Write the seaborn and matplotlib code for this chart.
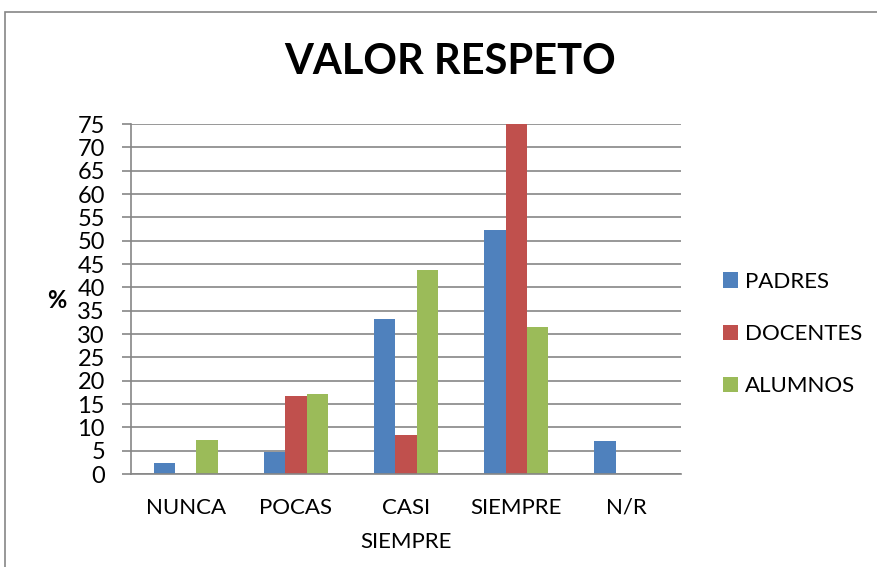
import matplotlib
matplotlib.use("Agg")
import pandas as pd
import seaborn as sns
import matplotlib.pyplot as plt
from matplotlib.patches import Rectangle

categories = ['NUNCA', 'POCAS', 'CASI\nSIEMPRE', 'SIEMPRE', 'N/R']
series = ['PADRES', 'DOCENTES', 'ALUMNOS']
padres = [2.4, 4.8, 33.3, 52.4, 7.1]
docentes = [0, 16.7, 8.3, 75.0, 0]
alumnos = [7.3, 17.1, 43.8, 31.6, 0]
colors = ['#4F81BD', '#C0504D', '#9BBB59']

df = pd.DataFrame({
    'cat': categories * 3,
    'grupo': [s for s in series for _ in categories],
    'valor': padres + docentes + alumnos,
})

sns.set_style('white')
plt.rcParams['font.family'] = ['Lato', 'DejaVu Sans']
plt.rcParams['text.color'] = 'black'

fig = plt.figure(figsize=(8.77, 5.67), dpi=100)
ax = fig.add_axes([0.149, 0.164, 0.628, 0.617])

sns.barplot(data=df, x='cat', y='valor', hue='grupo', palette=colors,
            width=0.58, saturation=1, linewidth=0, ax=ax, legend=True)

ax.set_ylim(0, 75)
ax.set_yticks(range(0, 80, 5))
ax.set_xlim(-0.5, 4.5)
ax.yaxis.grid(True, color='#868686', linewidth=1.2)
ax.set_axisbelow(True)
for s in ['top', 'right']:
    ax.spines[s].set_visible(False)
for s in ['left', 'bottom']:
    ax.spines[s].set_color('#868686')
    ax.spines[s].set_linewidth(1.2)
ax.tick_params(axis='y', length=6.5, width=1.2, color='#868686', labelsize=17,
               pad=12, left=True, labelcolor='black')
ax.tick_params(axis='x', length=0, labelsize=16, pad=17, labelcolor='black')
for t in ax.get_xticklabels():
    t.set_linespacing(1.9)
ax.set_xlabel('')
ax.set_ylabel('')
fig.text(57 / 877, 1 - 300 / 567, '%', fontsize=17, fontweight='bold',
         ha='center', va='center')

fig.text(450 / 877, 1 - 62 / 567, 'VALOR RESPETO', fontsize=30,
         fontweight='bold', ha='center', va='center')

handles, labels = ax.get_legend_handles_labels()
ax.legend(handles, labels, loc='center left', bbox_to_anchor=(1.055, 0.4),
          frameon=False, fontsize=16, handlelength=0.7, handleheight=0.7,
          labelspacing=1.45, handletextpad=0.3, borderpad=0)

fig.patches.append(Rectangle((5 / 877, -0.1), 2, 1.1 - 12 / 567,
                             transform=fig.transFigure, fill=False,
                             edgecolor='#868686', linewidth=1.2))

fig.savefig('out.png', dpi=100)
